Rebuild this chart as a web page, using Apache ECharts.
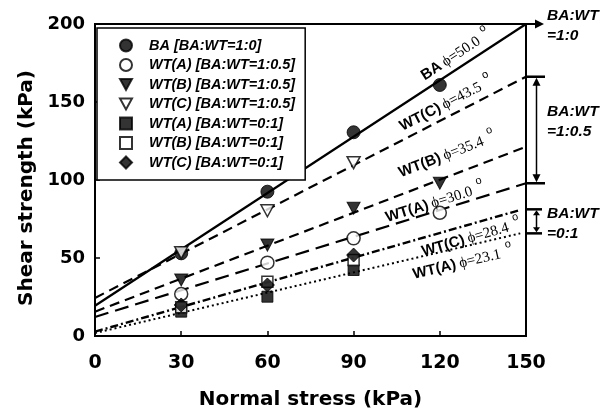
<!DOCTYPE html>
<html><head><meta charset="utf-8">
<script src="https://cdn.jsdelivr.net/npm/echarts@6/dist/echarts.min.js"></script>
<style>html,body{margin:0;padding:0;background:#fff}#c{width:614px;height:412px}</style>
</head><body><div id="c"></div>
<script>
// ---- data ----
const xTicks = [0, 30, 60, 90, 120, 150];
const yTicks = [0, 50, 100, 150, 200];

const seriesNames = [
  'BA [BA:WT=1:0]',
  'WT(A) [BA:WT=1:0.5]',
  'WT(B) [BA:WT=1:0.5]',
  'WT(C) [BA:WT=1:0.5]',
  'WT(A) [BA:WT=0:1]',
  'WT(B) [BA:WT=0:1]',
  'WT(C) [BA:WT=0:1]'
];

const ptsBA   = [[30, 53.0], [60, 92.5], [90, 130.6], [120, 160.9]];
const ptsA05  = [[30, 26.9], [60, 47.0], [90, 62.6], [120, 79.0]];
const ptsB05  = [[30, 35.9], [60, 58.3], [90, 81.9], [120, 97.9]];
const ptsC05  = [[30, 53.4], [60, 80.3], [90, 111.1]];
const ptsA01  = [[30, 15.6], [60, 25.2], [90, 42.3]];
const ptsB01  = [[30, 18.5], [60, 34.8], [90, 48.7]];
const ptsC01  = [[30, 19.9], [60, 32.7], [90, 51.9]];

// fitted envelope lines (end points)
const fitBA  = [[0, 19.4], [150, 200.0]];
const fitC05 = [[0, 24.4], [150, 166.2]];
const fitB05 = [[0, 15.6], [150, 121.3]];
const fitA05 = [[0, 12.2], [150, 97.9]];
const fitC01 = [[0, 2.8],  [148, 80.8]];
const fitA01 = [[0, 1.9],  [148, 65.8]];

// line labels
const lineLabelText = ['BA', 'WT(C)', 'WT(B)', 'WT(A)', 'WT(C)', 'WT(A)'];
const lineLabelPhi  = ['50.0', '43.5', '35.4', '30.0', '28.4', '23.1'];
const lineLabelAt   = [[125.6, 180.0], [122.2, 148.7], [122.5, 116.0], [118.3, 85.3], [130.9, 62.8], [128.0, 46.8]];

// ratio brackets (top, bottom values at x = 150)
const bracketRanges = [[166.2, 97.9], [81.2, 65.8]];
const ratioLabels = ['BA:WT\n=1:0', 'BA:WT\n=1:0.5', 'BA:WT\n=0:1'];

// ---- chart ----
const chart = echarts.init(document.getElementById('c'), null, {renderer: 'canvas'});
const TRI_DOWN = 'path://M0,0L12,0L6,11Z';
const ptSeries = [ptsBA, ptsA05, ptsB05, ptsC05, ptsA01, ptsB01, ptsC01];
const symbols = ['circle', 'circle', TRI_DOWN, TRI_DOWN, 'rect', 'rect', 'diamond'];
const sizes = [13, 13, [13, 12], [13, 12], 11, 11, 14];
const filled = [true, false, true, false, true, false, true];

const fits = [fitBA, fitC05, fitB05, fitA05, fitC01, fitA01];
const fitStyles = [
  {type: 'solid', width: 2.2},
  {type: [10, 6], width: 2.2},
  {type: [10, 6], width: 2.2},
  {type: [14, 7], width: 2.2},
  {type: [8, 3, 2, 3], width: 2.4},
  {type: [2, 3], width: 2}
];

const series = [];
fits.forEach((d, i) => {
  series.push({
    name: 'fit' + i, type: 'line', data: d, symbol: 'none', silent: true, z: 1,
    lineStyle: Object.assign({color: '#000'}, fitStyles[i]), animation: false
  });
});
ptSeries.forEach((d, i) => {
  series.push({
    name: seriesNames[i], type: 'scatter', data: d, symbol: symbols[i], symbolSize: sizes[i], z: 5,
    itemStyle: filled[i] ? {color: '#000', borderColor: '#000', borderWidth: 1}
                         : {color: '#fff', borderColor: '#000', borderWidth: 1.5},
    animation: false
  });
});

const legendIcons = ['circle', 'circle', TRI_DOWN, TRI_DOWN, 'rect', 'rect', 'diamond'];

chart.setOption({
  animation: false,
  backgroundColor: '#fff',
  grid: {left: 95, right: 88, top: 24, bottom: 76, show: true, borderColor: '#000', borderWidth: 2,
         outerBoundsMode: 'none', containLabel: false},
  legend: {
    left: 97, top: 28, orient: 'vertical',
    padding: [10, 10, 10, 22], itemGap: 4.5, itemWidth: 12, itemHeight: 12,
    borderColor: '#000', borderWidth: 1.5, backgroundColor: '#fff',
    selectedMode: false,
    data: seriesNames.map((n, i) => ({name: n, icon: legendIcons[i]})),
    formatter: n => '{n|' + n + '}',
    textStyle: {
      fontFamily: 'Liberation Sans', fontSize: 14.5, fontWeight: 'bold', fontStyle: 'italic', color: '#000', lineHeight: 14,
      rich: {n: {fontFamily: 'Liberation Sans', fontSize: 14.5, fontWeight: 'bold', fontStyle: 'italic', color: '#000', lineHeight: 14, padding: [0, 0, 0, 12]}}
    }
  },
  xAxis: {
    type: 'value', min: 0, max: 150, interval: 30,
    name: 'Normal stress (kPa)', nameLocation: 'middle', nameGap: 54,
    nameTextStyle: {fontFamily: 'DejaVu Sans', fontWeight: 'bold', fontSize: 20, color: '#000'},
    axisLine: {lineStyle: {color: '#000', width: 2}},
    axisTick: {inside: true, length: 5, lineStyle: {color: '#000', width: 1.5}},
    axisLabel: {fontFamily: 'DejaVu Sans', fontWeight: 'bold', fontSize: 19, color: '#000', margin: 18,
      formatter: v => xTicks.includes(v) ? String(v) : ''},
    splitLine: {show: false}
  },
  yAxis: {
    type: 'value', min: 0, max: 200, interval: 50,
    name: 'Shear strength (kPa)', nameLocation: 'middle', nameGap: 52,
    nameTextStyle: {fontFamily: 'DejaVu Sans', fontWeight: 'bold', fontSize: 20, color: '#000', padding: [0, 16, 0, 0]},
    axisLine: {lineStyle: {color: '#000', width: 2}},
    axisTick: {inside: true, length: 5, lineStyle: {color: '#000', width: 1.5}},
    axisLabel: {fontFamily: 'DejaVu Sans', fontWeight: 'bold', fontSize: 18, color: '#000', margin: 10,
      formatter: v => yTicks.includes(v) ? String(v) : ''},
    splitLine: {show: false}
  },
  series: series
});

// ---- annotations positioned through the chart's own scales ----
const P = (x, y) => chart.convertToPixel({gridIndex: 0}, [x, y]);
const g = [];

fits.forEach((d, i) => {
  const a = P(d[0][0], d[0][1]), b = P(d[1][0], d[1][1]);
  const ang = Math.atan2(a[1] - b[1], b[0] - a[0]);
  const at = P(lineLabelAt[i][0], lineLabelAt[i][1]);
  g.push({
    type: 'text', x: at[0], y: at[1], rotation: ang, z: 10,
    style: {
      text: '{s|' + lineLabelText[i] + '} {t|\u03D5=' + lineLabelPhi[i] + '}{d|o}',
      align: 'center', verticalAlign: 'middle', fill: '#000',
      rich: {
        s: {fontFamily: 'Liberation Sans', fontSize: 15, fontWeight: 'bold', fill: '#000', lineHeight: 18},
        t: {fontFamily: 'Liberation Serif', fontSize: 15, fill: '#000', lineHeight: 18},
        d: {fontFamily: 'Liberation Sans', fontSize: 11, fill: '#000', padding: [0, 0, 16, 6], lineHeight: 11}
      }
    }
  });
});

const corner = P(150, 200);
g.push({type: 'line', shape: {x1: corner[0], y1: corner[1], x2: corner[0] + 12, y2: corner[1]}, style: {stroke: '#000', lineWidth: 2}});
g.push({type: 'polygon', shape: {points: [[corner[0] + 18, corner[1]], [corner[0] + 9, corner[1] - 4.5], [corner[0] + 9, corner[1] + 4.5]]}, style: {fill: '#000'}});

function vArrow(x, yTop, yBot, head, hw) {
  g.push({type: 'line', shape: {x1: x, y1: yTop + head - 1, x2: x, y2: yBot - head + 1}, style: {stroke: '#000', lineWidth: 1.5}});
  g.push({type: 'polygon', shape: {points: [[x, yTop + 1], [x - hw, yTop + head], [x + hw, yTop + head]]}, style: {fill: '#000'}});
  g.push({type: 'polygon', shape: {points: [[x, yBot - 1], [x - hw, yBot - head], [x + hw, yBot - head]]}, style: {fill: '#000'}});
}
bracketRanges.forEach((r, i) => {
  const t = P(150, r[0]), b = P(150, r[1]);
  const len = i === 0 ? 19 : 16;
  g.push({type: 'line', shape: {x1: t[0], y1: t[1], x2: t[0] + len, y2: t[1]}, style: {stroke: '#000', lineWidth: 2.5}});
  g.push({type: 'line', shape: {x1: b[0], y1: b[1], x2: b[0] + len, y2: b[1]}, style: {stroke: '#000', lineWidth: 2.5}});
  vArrow(t[0] + 10.5, t[1], b[1], i === 0 ? 9 : 6, i === 0 ? 4 : 3.5);
});

const labelY = [P(150, 200)[1] + 2, P(150, (bracketRanges[0][0] + bracketRanges[0][1]) / 2)[1] - 8, P(150, (bracketRanges[1][0] + bracketRanges[1][1]) / 2)[1] + 2];
ratioLabels.forEach((txt, i) => {
  g.push({
    type: 'text', x: corner[0] + 21, y: labelY[i], z: 10,
    style: {text: txt, align: 'left', verticalAlign: 'middle', fill: '#000',
      fontFamily: 'Liberation Sans', fontSize: 15.5, fontWeight: 'bold', fontStyle: 'italic', lineHeight: 20}
  });
});

chart.setOption({graphic: g});
</script>
</body></html>
